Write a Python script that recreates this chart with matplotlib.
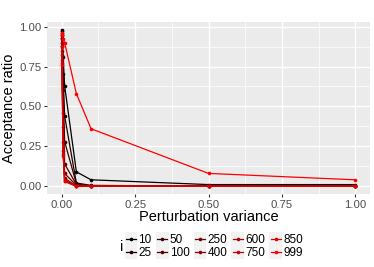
import matplotlib
matplotlib.use("Agg")
import matplotlib.pyplot as plt
import numpy as np
from matplotlib.legend_handler import HandlerLine2D
from matplotlib.patches import Rectangle
from matplotlib.lines import Line2D

plt.rcParams['font.family'] = ['Liberation Sans', 'DejaVu Sans']

variance = [0.0001, 0.001, 0.005, 0.01, 0.05, 0.1, 0.5, 1.0]
i_levels = ["10", "25", "50", "100", "250", "400", "600", "750", "850", "999"]
ratios = {
    "10":  [0.98, 0.95, 0.81, 0.63, 0.09, 0.04, 0.01, 0.01],
    "25":  [0.97, 0.93, 0.70, 0.44, 0.02, 0.005, 0.0, 0.0],
    "50":  [0.96, 0.90, 0.60, 0.28, 0.015, 0.0, 0.0, 0.0],
    "100": [0.95, 0.88, 0.46, 0.14, 0.01, 0.0, 0.0, 0.0],
    "250": [0.93, 0.85, 0.37, 0.08, 0.005, 0.0, 0.0, 0.0],
    "400": [0.92, 0.82, 0.28, 0.05, 0.0, 0.0, 0.0, 0.0],
    "600": [0.90, 0.79, 0.22, 0.04, 0.0, 0.0, 0.0, 0.0],
    "750": [0.88, 0.77, 0.20, 0.03, 0.0, 0.0, 0.0, 0.0],
    "850": [0.87, 0.76, 0.19, 0.03, 0.0, 0.0, 0.0, 0.0],
    "999": [0.96, 0.95, 0.92, 0.90, 0.58, 0.36, 0.08, 0.04],
}

n = len(i_levels)
colors = [(k / (n - 1), 0.0, 0.0) for k in range(n)]

fig = plt.figure(figsize=(3.74, 2.67), dpi=100)
ax = fig.add_axes([47/374, 1 - 194/267, (370-47)/374, (194-22)/267])
ax.set_facecolor('#EBEBEB')
for s in ax.spines.values():
    s.set_visible(False)

handles = []
for lev, c in zip(i_levels, colors):
    h, = ax.plot(variance, ratios[lev], color=c, lw=0.9, marker='o', ms=2.6,
                 markeredgewidth=0, zorder=3)
    handles.append(h)

ax.set_xlim(-0.05, 1.05)
ax.set_ylim(-0.049, 1.029)
ax.set_xticks([0, 0.25, 0.5, 0.75, 1.0])
ax.set_xticklabels(["0.00", "0.25", "0.50", "0.75", "1.00"])
ax.set_yticks([0, 0.25, 0.5, 0.75, 1.0])
ax.set_yticklabels(["0.00", "0.25", "0.50", "0.75", "1.00"])
ax.set_xticks([0.125, 0.375, 0.625, 0.875], minor=True)
ax.set_yticks([0.125, 0.375, 0.625, 0.875], minor=True)
ax.grid(True, which='major', color='white', lw=1.0, zorder=0)
ax.grid(True, which='minor', color='white', lw=0.5, zorder=0)
ax.set_axisbelow(True)
ax.tick_params(which='major', length=2.5, width=0.8, color='#333333',
               labelsize=8.2, labelcolor='#4D4D4D', pad=1.5)
ax.tick_params(which='minor', length=0)
ax.set_xlabel("Perturbation variance", fontsize=10.5, labelpad=0)
ax.set_ylabel("Acceptance ratio", fontsize=10.5, labelpad=2)


class KeyHandler(HandlerLine2D):
    def create_artists(self, legend, orig_handle, xdescent, ydescent,
                       width, height, fontsize, trans):
        rect = Rectangle((-xdescent - 1, -ydescent - 2.0), width + 2, height + 4,
                         facecolor='#F2F2F2', edgecolor='none', transform=trans)
        arts = super().create_artists(legend, orig_handle, xdescent, ydescent,
                                      width, height, fontsize, trans)
        return [rect] + list(arts)


leg = fig.legend(handles, i_levels, ncol=5, loc='center left',
                 bbox_to_anchor=(126/374, 1 - 246.5/267), frameon=False,
                 fontsize=8.5, handlelength=0.85, handletextpad=0.2,
                 columnspacing=0.47, labelspacing=0.12, borderpad=0,
                 borderaxespad=0,
                 handler_map={Line2D: KeyHandler(numpoints=1)})
fig.text(122/374, 1 - 247/267, "i", fontsize=10.5, ha='center', va='center')

fig.savefig("out.png", dpi=100)
